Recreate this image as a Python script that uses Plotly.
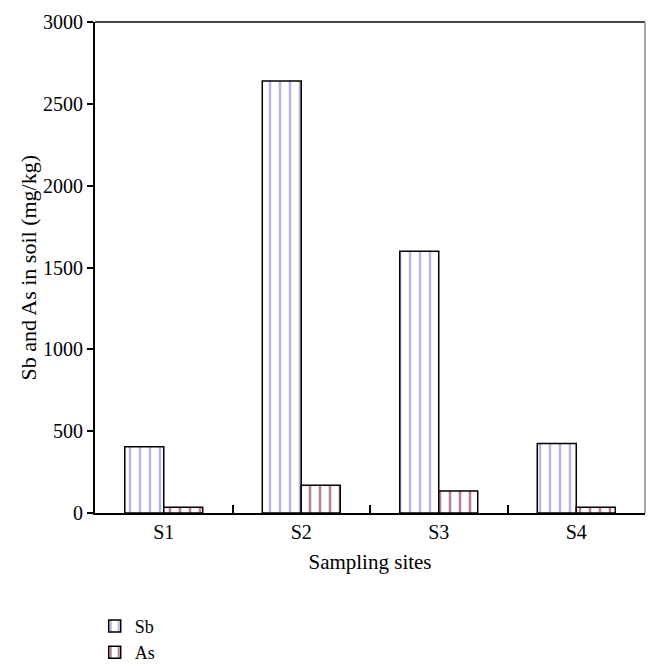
import plotly.graph_objects as go

# Sampling sites and concentrations (mg/kg)
sites = ["S1", "S2", "S3", "S4"]
sb_values = [405, 2640, 1600, 425]
as_values = [35, 170, 135, 35]

font_family = "Liberation Serif, DejaVu Serif, serif"

fig = go.Figure()

fig.add_trace(go.Bar(
    x=sites,
    y=sb_values,
    name="Sb",
    marker=dict(
        color="white",
        line=dict(color="black", width=1.5),
        pattern=dict(shape="|", fgcolor="#7070c0", bgcolor="white", size=10, solidity=0.25),
    ),
))

fig.add_trace(go.Bar(
    x=sites,
    y=as_values,
    name="As",
    marker=dict(
        color="white",
        line=dict(color="black", width=1.5),
        pattern=dict(shape="|", fgcolor="#700038", bgcolor="white", size=10, solidity=0.25),
    ),
))

fig.update_layout(
    width=652,
    height=662,
    barmode="group",
    bargap=0.433,
    bargroupgap=0,
    plot_bgcolor="white",
    paper_bgcolor="white",
    font=dict(family=font_family, size=20, color="black"),
    margin=dict(l=87, r=15, t=14, b=157, autoexpand=False),
    legend=dict(
        orientation="v",
        x=0.133, xref="container", xanchor="left",
        y=0.094, yref="container", yanchor="top",
        font=dict(size=18),
        traceorder="normal",
        tracegroupgap=0,
        bgcolor="rgba(0,0,0,0)",
    ),
    showlegend=True,
)

fig.update_xaxes(
    title=dict(text="Sampling sites", font=dict(size=21), standoff=12),
    showline=True, linecolor="black", linewidth=2,
    ticks="inside", ticklen=8, tickcolor="black", tickwidth=1.5,
    tickson="boundaries",
    showgrid=False,
)

fig.update_yaxes(
    range=[0, 3000],
    tickvals=[0, 500, 1000, 1500, 2000, 2500, 3000],
    showline=True, linecolor="black", linewidth=2,
    ticks="outside", ticklen=6, tickcolor="black", tickwidth=1.5,
    showgrid=False, zeroline=False,
)

# y-axis title as annotation
fig.add_annotation(
    text="Sb and As in soil (mg/kg)",
    xref="paper", yref="paper", x=0, y=0.5,
    xanchor="center", yanchor="middle", xshift=-67,
    textangle=-90, showarrow=False,
    font=dict(size=22),
)

# frame: top and right borders
fig.add_shape(type="line", xref="paper", yref="paper", x0=0, x1=1, y0=1, y1=1,
              line=dict(color="#444444", width=2))
fig.add_shape(type="line", xref="paper", yref="paper", x0=1, x1=1, y0=0, y1=1,
              line=dict(color="#888888", width=1.5))

fig.write_html("out.html")
